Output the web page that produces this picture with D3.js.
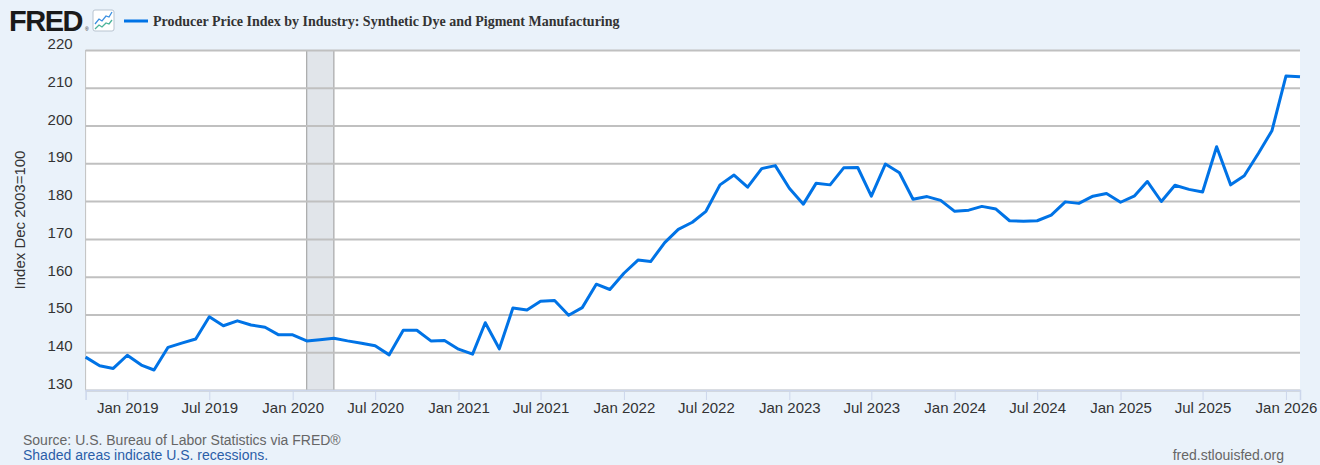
<!DOCTYPE html>
<html>
<head>
<meta charset="utf-8">
<script src="https://cdn.jsdelivr.net/npm/d3@7"></script>
<style>
  body { margin: 0; background: #eaf2fa; }
  svg { display: block; font-family: "Liberation Sans", Arial, sans-serif; }
</style>
</head>
<body>
<div id="chart"></div>
<script>
  "use strict";

  // monthly observations, Oct 2018 .. Feb 2026
  var startMonth = "2018-10";
  var values = [
    138.7, 136.4, 135.7, 139.2, 136.6, 135.3, 141.3, 142.4, 143.5, 149.4, 147.0, 148.3,
    147.2, 146.6, 144.6, 144.6, 143.0, 143.3, 143.7, 143.0, 142.4, 141.7, 139.3, 145.8,
    145.8, 143.0, 143.1, 140.8, 139.5, 147.8, 140.9, 151.7, 151.2, 153.5, 153.7, 149.8,
    151.8, 158.0, 156.6, 160.9, 164.4, 164.0, 169.0, 172.5, 174.4, 177.3, 184.3, 186.9,
    183.7, 188.6, 189.4, 183.4, 179.2, 184.7, 184.3, 188.8, 188.9, 181.3, 189.8, 187.5,
    180.5, 181.2, 180.2, 177.3, 177.6, 178.6, 177.9, 174.8, 174.7, 174.8, 176.3, 179.8,
    179.4, 181.3, 182.0, 179.7, 181.4, 185.2, 179.9, 184.2, 183.1, 182.4, 194.4, 184.3,
    186.7, 192.6, 198.6, 213.1, 212.9
  ];
  var yTicks = [130, 140, 150, 160, 170, 180, 190, 200, 210, 220];
  var xTickLabels = ["Jan 2019", "Jul 2019", "Jan 2020", "Jul 2020", "Jan 2021", "Jul 2021",
    "Jan 2022", "Jul 2022", "Jan 2023", "Jul 2023", "Jan 2024", "Jul 2024",
    "Jan 2025", "Jul 2025", "Jan 2026"];
  var recessions = [["2020-02", "2020-04"]];

  var title = "Producer Price Index by Industry: Synthetic Dye and Pigment Manufacturing";
  var yTitle = "Index Dec 2003=100";

  var width = 1320, height = 465;
  var margin = { top: 50, right: 20, bottom: 75, left: 85.6 };
  var parseMonth = d3.timeParse("%Y-%m");
  var parseLabel = d3.timeParse("%b %Y");

  var start = parseMonth(startMonth);
  var data = values.map(function(v, i) {
    return { date: d3.timeMonth.offset(start, i), value: v };
  });

  var x = d3.scaleTime()
    .domain([start, data[data.length - 1].date])
    .range([margin.left, width - margin.right]);
  var y = d3.scaleLinear()
    .domain([130, 220])
    .range([height - margin.bottom, margin.top]);

  var svg = d3.select("#chart")
    .append("svg")
    .attr("width", width)
    .attr("height", height);

  // plot background
  svg.append("rect")
    .attr("x", margin.left)
    .attr("y", margin.top)
    .attr("width", width - margin.right - margin.left)
    .attr("height", height - margin.bottom - margin.top)
    .attr("fill", "#fff");

  // recession shading
  recessions.forEach(function(r) {
    var x0 = x(parseMonth(r[0])), x1 = x(parseMonth(r[1]));
    svg.append("rect")
      .attr("x", x0).attr("y", margin.top)
      .attr("width", x1 - x0).attr("height", height - margin.bottom - margin.top)
      .attr("fill", "#e1e5ea");
    [x0, x1].forEach(function(xx) {
      svg.append("line")
        .attr("x1", xx).attr("x2", xx)
        .attr("y1", margin.top).attr("y2", height - margin.bottom)
        .attr("stroke", "#999").attr("stroke-width", 1);
    });
  });

  // y grid + labels
  var yAxis = d3.axisLeft(y)
    .tickValues(yTicks)
    .tickSize(-(width - margin.right - margin.left))
    .tickPadding(13);
  var gy = svg.append("g")
    .attr("transform", "translate(" + margin.left + ",0)")
    .call(yAxis);
  gy.select(".domain").remove();
  gy.selectAll(".tick line").attr("stroke", "#c0c0c0").attr("stroke-width", 2);
  gy.selectAll(".tick text")
    .attr("fill", "#333")
    .attr("dy", "-0.1em")
    .style("font-size", "15px");

  // left edge
  svg.append("line")
    .attr("x1", margin.left).attr("x2", margin.left)
    .attr("y1", margin.top).attr("y2", height - margin.bottom)
    .attr("stroke", "#c0c0c0").attr("stroke-width", 1);

  // x axis
  var xAxis = d3.axisBottom(x)
    .tickValues(xTickLabels.map(function(s) { return parseLabel(s); }))
    .tickFormat(d3.timeFormat("%b %Y"))
    .tickSize(10)
    .tickPadding(2);
  var gx = svg.append("g")
    .attr("transform", "translate(0," + (height - margin.bottom) + ")")
    .call(xAxis);
  gx.select(".domain").attr("stroke", "#ccd6eb").attr("stroke-width", 1.5);
  gx.selectAll(".tick line").attr("stroke", "#ccd6eb");
  gx.selectAll(".tick text")
    .attr("fill", "#333")
    .style("font-size", "15px");

  // series line
  var line = d3.line()
    .x(function(d) { return x(d.date); })
    .y(function(d) { return y(d.value); });
  svg.append("path")
    .datum(data)
    .attr("d", line)
    .attr("fill", "none")
    .attr("stroke", "#0073e6")
    .attr("stroke-width", 3)
    .attr("stroke-linejoin", "round");

  // y axis title
  svg.append("text")
    .attr("transform", "translate(25," + ((margin.top + height - margin.bottom) / 2) + ") rotate(-90)")
    .attr("text-anchor", "middle")
    .attr("fill", "#333")
    .style("font-size", "15px")
    .text(yTitle);

  // header: FRED logo + legend
  svg.append("text")
    .attr("x", 9).attr("y", 31)
    .attr("fill", "#1a1a1a")
    .style("font-size", "29px")
    .style("font-weight", "bold")
    .style("letter-spacing", "-1.5px")
    .text("FRED");
  svg.append("text")
    .attr("x", 85).attr("y", 31)
    .attr("fill", "#1a1a1a")
    .style("font-size", "5px")
    .text("®");
  var icon = svg.append("g").attr("transform", "translate(93,10)");
  icon.append("rect")
    .attr("width", 21).attr("height", 21).attr("rx", 2)
    .attr("fill", "#fff").attr("stroke", "#b8c4d0");
  icon.append("path")
    .attr("d", "M2,14 L6,9 L9,11 L13,6 L16,7 L19,2")
    .attr("fill", "none").attr("stroke", "#3b8fe0").attr("stroke-width", 1.3);
  icon.append("path")
    .attr("d", "M2,19 L6,15 L9,17 L13,13 L16,14 L19,10")
    .attr("fill", "none").attr("stroke", "#4bb39a").attr("stroke-width", 1.3);

  svg.append("line")
    .attr("x1", 124).attr("x2", 148)
    .attr("y1", 21).attr("y2", 21)
    .attr("stroke", "#0073e6").attr("stroke-width", 3);
  svg.append("text")
    .attr("x", 153).attr("y", 26)
    .attr("fill", "#333")
    .style("font-family", "'Liberation Serif', 'DejaVu Serif', serif")
    .style("font-weight", "bold")
    .style("font-size", "14px")
    .text(title);

  // footer
  svg.append("text")
    .attr("x", 23).attr("y", 445)
    .attr("fill", "#666")
    .style("font-size", "14px")
    .text("Source: U.S. Bureau of Labor Statistics via FRED®");
  svg.append("text")
    .attr("x", 23).attr("y", 460)
    .attr("fill", "#2a5ea8")
    .style("font-size", "14px")
    .text("Shaded areas indicate U.S. recessions.");
  svg.append("text")
    .attr("x", 1284).attr("y", 460)
    .attr("text-anchor", "end")
    .attr("fill", "#666")
    .style("font-size", "14px")
    .text("fred.stlouisfed.org");
</script>
</body>
</html>
